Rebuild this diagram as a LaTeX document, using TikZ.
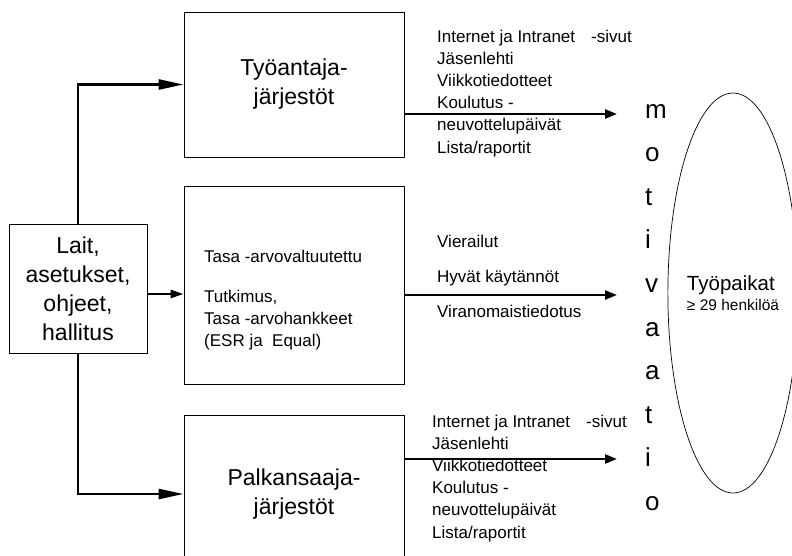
\documentclass[tikz,border=0pt]{standalone}
\usepackage{fontspec}
\setmainfont{Liberation Sans}
\usetikzlibrary{arrows.meta,shapes.geometric}

\begin{document}
\begin{tikzpicture}[x=1pt,y=-1pt,
    box/.style={draw, line width=0.9pt, align=center, inner sep=0pt, font=\fontsize{23}{29}\selectfont},
    list/.style={anchor=north west, align=left, inner sep=0pt, font=\fontsize{17}{22.2}\selectfont},
    feed/.style={line width=2.6pt, -{Triangle[length=25pt,width=10pt]}},
    push/.style={line width=2.3pt, -{Triangle[length=12pt,width=9pt]}}]
    \useasboundingbox (0,0) rectangle (792,555);
    \node [box, minimum width=138pt, minimum height=129pt] (laki) at (78,288.5) {Lait,\\asetukset,\\ohjeet,\\hallitus};
    \node [box, minimum width=220pt, minimum height=145pt] (tyo) at (294,84.5) {Työantaja-\\järjestöt};
    \node [box, minimum width=220pt, minimum height=198pt] (tasa) at (294,285) {};
    \node [box, minimum width=220pt, minimum height=158pt] (palk) at (294,494) {Palkansaaja-\\järjestöt};
    \node [list] (tasateksti) at (204,249.5) {Tasa -arvovaltuutettu\\[18pt]Tutkimus,\\Tasa -arvohankkeet\\(ESR ja\ \ Equal)};

    \node [list] (tyolista) at (437,29.5) {Internet ja Intranet\hspace{16pt}-sivut\\Jäsenlehti\\Viikkotiedotteet\\Koulutus -\\neuvottelupäivät\\Lista/raportit};
    \node [list, font=\fontsize{17}{35}\selectfont] (tasalista) at (437,234.5) {Vierailut\\Hyvät käytännöt\\Viranomaistiedotus};
    \node [list] (palklista) at (432,414.5) {Internet ja Intranet\hspace{16pt}-sivut\\Jäsenlehti\\Viikkotiedotteet\\Koulutus -\\neuvottelupäivät\\Lista/raportit};

    \foreach \c [count=\i from 0] in {m,o,t,i,v,a,a,t,i,o}
        \node [anchor=base west, inner sep=0pt, font=\fontsize{26}{26}\selectfont] (kirjain\i) at (645,118+43.6*\i) {\c};

    \node [draw, ellipse, line width=0.7pt, minimum width=120pt, minimum height=400pt, align=left, inner sep=0pt] (tyopaikat) at (733,293)
        {{\fontsize{20.5}{20}\selectfont Työpaikat}\\[3pt]{\fontsize{15.5}{20}\selectfont ≥ 29 henkilöä}};

    \draw [feed] (laki.north) |- (tyo.west);
    \draw [feed, -{Triangle[length=13pt,width=8pt]}] ([yshift=-5.5pt]laki.east) -- ([yshift=-5.5pt]laki.east -| tasa.west);
    \draw [feed] (laki.south) |- (palk.west);

    \coordinate (tyokarki) at (617,114);
    \coordinate (tasakarki) at (617,295);
    \coordinate (palkkarki) at (617,459);
    \draw [push] (tyo.east |- tyokarki) -- (tyokarki);
    \draw [push] (tasa.east |- tasakarki) -- (tasakarki);
    \draw [push] (palk.east |- palkkarki) -- (palkkarki);
\end{tikzpicture}
\end{document}
